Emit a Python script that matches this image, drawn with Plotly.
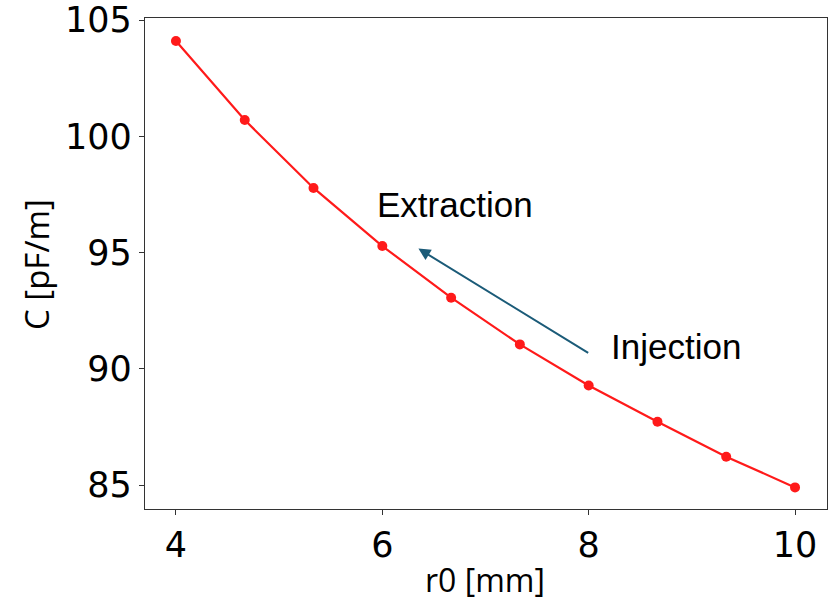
import plotly.graph_objects as go

r0_mm = [4.0, 4.667, 5.333, 6.0, 6.667, 7.333, 8.0, 8.667, 9.333, 10.0]
cap_pf_m = [104.1, 100.7, 97.78, 95.28, 93.06, 91.05, 89.28, 87.72, 86.22, 84.9]

x_ticks = [4, 6, 8, 10]
y_ticks = [85, 90, 95, 100, 105]

W, H = 830, 600
L, R, T, B = 145, 3, 18, 91

fig = go.Figure()
fig.add_trace(go.Scatter(
    x=r0_mm, y=cap_pf_m, mode="lines+markers",
    line=dict(color="#ff1a1a", width=2.2),
    marker=dict(color="#ff1a1a", size=10),
    showlegend=False,
))

fig.add_annotation(x=6.35, y=95.17, ax=8.01, ay=90.65,
                   xref="x", yref="y", axref="x", ayref="y",
                   text="", showarrow=True, arrowhead=2, arrowsize=1.2,
                   arrowwidth=2, arrowcolor="#1b5b78")
fig.add_annotation(x=6.70, y=97.07, xref="x", yref="y", text="Extraction",
                   showarrow=False, font=dict(family="Liberation Sans", size=35, color="black"))
fig.add_annotation(x=8.85, y=90.95, xref="x", yref="y", text="Injection",
                   showarrow=False, font=dict(family="Liberation Sans", size=35, color="black"))

pw, ph = W - L - R, H - T - B
# axis titles placed as paper annotations
fig.add_annotation(x=(485 - L) / pw, y=-(579 - (H - B)) / ph, xref="paper", yref="paper",
                   text="r0 [mm]", showarrow=False, xanchor="center", yanchor="middle",
                   font=dict(family="Open Sans", size=32, color="black"))
fig.add_annotation(x=-(L - 36) / pw, y=1 - (265 - T) / ph, xref="paper", yref="paper",
                   text="C [pF/m]", showarrow=False, textangle=-90, xanchor="center", yanchor="middle",
                   font=dict(family="Open Sans", size=33, color="black"))

axis_common = dict(showline=True, linecolor="#333333", linewidth=1.3, mirror=True,
                   ticks="outside", ticklen=5, tickcolor="#333333", tickwidth=1.3,
                   showgrid=False, zeroline=False, automargin=False,
                   ticklabeloverflow="allow",
                   tickfont=dict(family="DejaVu Sans", size=35, color="black"))

fig.update_layout(
    width=W, height=H,
    margin=dict(l=L, r=R, t=T, b=B),
    plot_bgcolor="white", paper_bgcolor="white",
    xaxis=dict(range=[3.70, 10.31], tickvals=x_ticks, **axis_common),
    yaxis=dict(range=[83.97, 105.09], tickvals=y_ticks, **axis_common),
)

fig.write_html("out.html",
               config={"displayModeBar": False},
               post_script="document.body.style.margin='0';document.body.style.overflow='hidden';")
